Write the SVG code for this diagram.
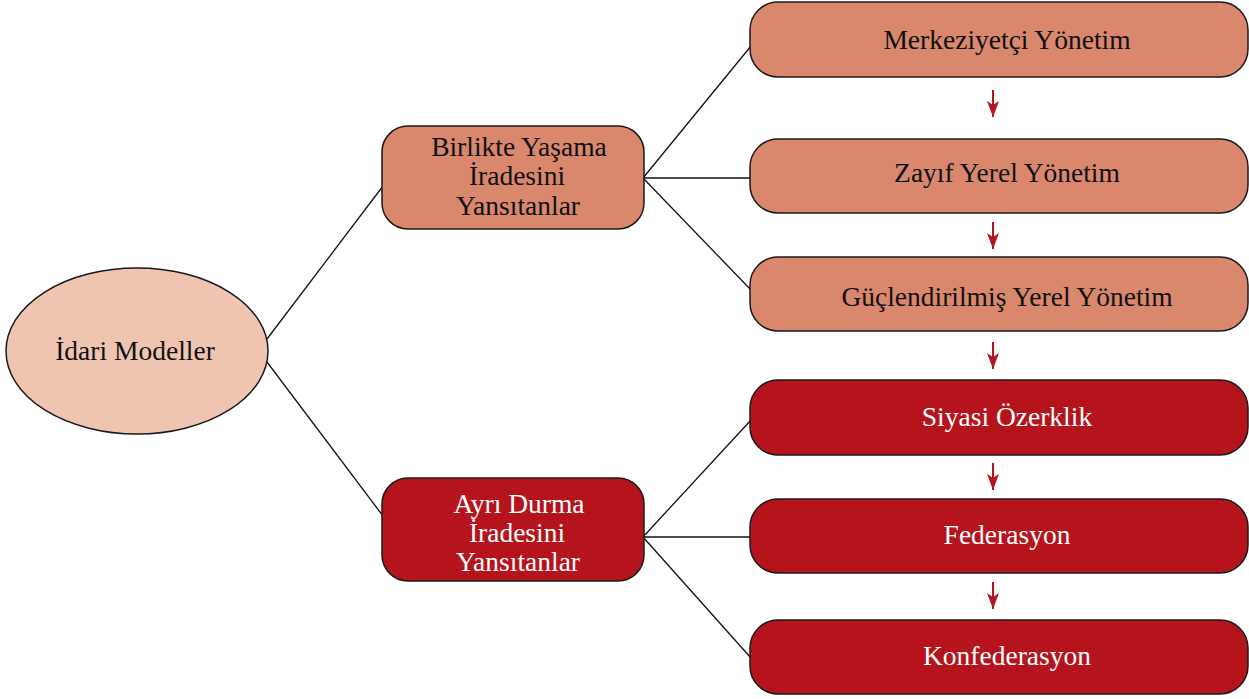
<svg xmlns="http://www.w3.org/2000/svg" width="1249" height="699" viewBox="0 0 1249 699">
  <defs>
    <marker id="down" viewBox="0 0 16 12" refX="16" refY="6" markerWidth="16" markerHeight="12" markerUnits="userSpaceOnUse" orient="auto">
      <path d="M0,0 L16,6 L0,12 L4,6 Z" fill="#b5141c"/>
    </marker>
    <style>
      .box { stroke: #1a1a1a; stroke-width: 1.5; }
      .light { fill: #d9876d; }
      .dark { fill: #b5141c; }
      .root { fill: #efc5b2; stroke: #1a1a1a; stroke-width: 1.5; }
      text { font-family: "Liberation Serif", "Times New Roman", serif; font-size: 27.5px; text-anchor: middle; }
      .ink { fill: #111111; }
      .paper { fill: #ffffff; }
      .wire { stroke: #111111; stroke-width: 1.3; fill: none; }
      .step { stroke: #b5141c; stroke-width: 2; fill: none; marker-end: url(#down); }
    </style>
  </defs>

  <g id="connectors">
    <line class="wire" x1="267" y1="339" x2="383" y2="186"/>
    <line class="wire" x1="267" y1="362" x2="383" y2="516"/>
    <line class="wire" x1="643" y1="178" x2="751" y2="46"/>
    <line class="wire" x1="643" y1="178" x2="751" y2="178"/>
    <line class="wire" x1="643" y1="178" x2="751" y2="290"/>
    <line class="wire" x1="643" y1="537" x2="751" y2="420"/>
    <line class="wire" x1="643" y1="537" x2="751" y2="537"/>
    <line class="wire" x1="643" y1="537" x2="751" y2="658"/>
    <line class="step" x1="993" y1="90" x2="993" y2="117"/>
    <line class="step" x1="993" y1="222" x2="993" y2="249"/>
    <line class="step" x1="993" y1="342" x2="993" y2="369"/>
    <line class="step" x1="993" y1="463" x2="993" y2="490"/>
    <line class="step" x1="993" y1="582" x2="993" y2="609"/>
  </g>

  <g id="idari-modeller">
    <ellipse class="root" cx="137" cy="351" rx="131" ry="83"/>
    <text class="ink" x="135" y="360">İdari Modeller</text>
  </g>

  <g id="birlikte-yasama">
    <rect class="box light" x="382" y="126" width="262" height="103" rx="26"/>
    <text class="ink" x="519" y="156">Birlikte Yaşama</text>
    <text class="ink" x="517" y="185">İradesini</text>
    <text class="ink" x="518" y="215">Yansıtanlar</text>
  </g>

  <g id="ayri-durma">
    <rect class="box dark" x="382" y="478" width="262" height="103" rx="26"/>
    <text class="paper" x="519" y="513">Ayrı Durma</text>
    <text class="paper" x="517" y="542">İradesini</text>
    <text class="paper" x="518" y="571">Yansıtanlar</text>
  </g>

  <g id="merkeziyetci">
    <rect class="box light" x="750" y="2" width="498" height="75" rx="28"/>
    <text class="ink" x="1007" y="49">Merkeziyetçi Yönetim</text>
  </g>

  <g id="zayif-yerel">
    <rect class="box light" x="750" y="139" width="498" height="74" rx="28"/>
    <text class="ink" x="1007" y="182">Zayıf Yerel Yönetim</text>
  </g>

  <g id="guclendirilmis-yerel">
    <rect class="box light" x="750" y="257" width="498" height="74" rx="28"/>
    <text class="ink" x="1007" y="306">Güçlendirilmiş Yerel Yönetim</text>
  </g>

  <g id="siyasi-ozerklik">
    <rect class="box dark" x="750" y="380" width="498" height="75" rx="28"/>
    <text class="paper" x="1007" y="426">Siyasi Özerklik</text>
  </g>

  <g id="federasyon">
    <rect class="box dark" x="750" y="499" width="498" height="74" rx="28"/>
    <text class="paper" x="1007" y="544">Federasyon</text>
  </g>

  <g id="konfederasyon">
    <rect class="box dark" x="750" y="620" width="498" height="74" rx="28"/>
    <text class="paper" x="1007" y="665">Konfederasyon</text>
  </g>
</svg>
